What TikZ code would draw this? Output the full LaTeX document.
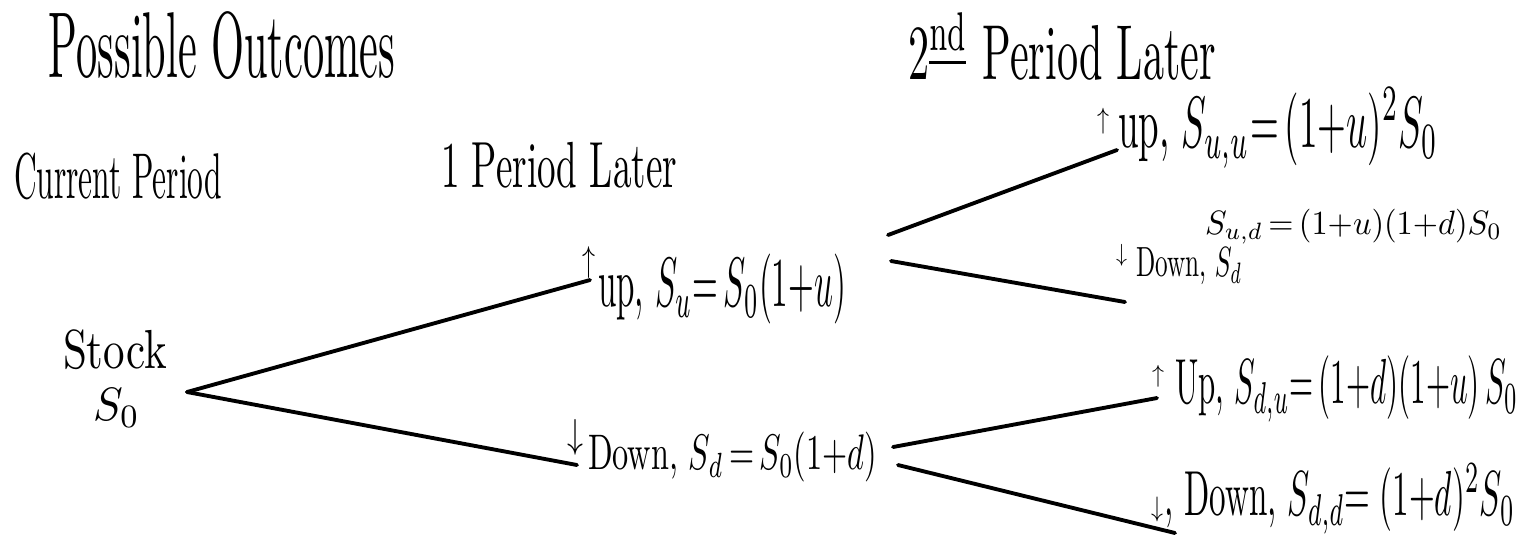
\documentclass[tikz,border=0pt]{standalone}
\usepackage{graphicx}
\newdimen\pxu \pxu=0.1mm
% fit a text into a box of w x h pixels (total height)
\newcommand{\handtext}[3]{\resizebox*{#1\pxu}{#2\pxu}{#3}}
\begin{document}
\begin{tikzpicture}[x=0.1mm,y=-0.1mm,
  lbl/.style={inner sep=0pt, outer sep=0pt, anchor=north west},
  branch/.style={line width=1.1pt, line cap=round}]
\useasboundingbox (0,0) rectangle (1529,541);

% headings
\node[lbl] (title) at (49,12) {\handtext{346}{68}{Possible Outcomes}};
\node[lbl] (per2) at (908,13) {\handtext{308}{67}{2\textsuperscript{\underline{nd}} Period Later}};
\node[lbl] (cur) at (14,153) {\handtext{208}{47}{Current Period}};
\node[lbl] (per1) at (441,142) {\handtext{236}{46}{1 Period Later}};

% root
\node[lbl] (stock) at (63,330) {\handtext{104}{40}{Stock}};
\node[lbl] (s0) at (93,388) {\handtext{47}{39}{$S_0$}};

% first period
\node[lbl] (up1a) at (582,246) {\handtext{13}{32}{$\uparrow$}};
\node[lbl] (up1) at (598,254) {\handtext{248}{70}{up, $S_u{=}\,S_0(1{+}u)$}};
\node[lbl] (dn1a) at (567,419) {\handtext{16}{36}{$\downarrow$}};
\node[lbl] (dn1) at (588,432) {\handtext{289}{50}{Down, $S_d\,{=}\,S_0(1{+}d)$}};

% second period
\node[lbl] (uua) at (1097,108) {\handtext{12}{26}{$\uparrow$}};
\node[lbl] (uu) at (1118,88) {\handtext{320}{80}{up, $S_{u,u}{=}\,(1{+}u)^2 S_0$}};
\node[lbl] (udv) at (1205,209) {\handtext{297}{35}{$S_{u,d}\,{=}\,(1{+}u)(1{+}d)S_0$}};
\node[lbl] (uda) at (1116,244) {\handtext{11}{22}{$\downarrow$}};
\node[lbl] (ud) at (1136,248) {\handtext{106}{37}{Down, $S_d$}};
\node[lbl] (dua) at (1152,365) {\handtext{12}{22}{$\uparrow$}};
\node[lbl] (du) at (1175,356) {\handtext{343}{66}{Up, $S_{d,u}{=}\,(1{+}d)(1{+}u)\,S_0$}};
\node[lbl] (dda) at (1151,497) {\handtext{12}{25}{$\downarrow$}};
\node[lbl] (dd) at (1164,464) {\handtext{351}{70}{, Down, $S_{d,d}{=}\;(1{+}d)^2 S_0$}};

% tree vertices
\coordinate (r) at (187,392);
\coordinate (u) at (590,280);
\coordinate (d) at (577,465);
\coordinate (u1) at (888,235);
\coordinate (u2) at (891,261);
\coordinate (d1) at (893,447);
\coordinate (d2) at (898,465);
\coordinate (uuend) at (1117,150);
\coordinate (udend) at (1125,302);
\coordinate (duend) at (1157,398);
\coordinate (ddend) at (1175,533);

\draw[branch] (r) -- (u);
\draw[branch] (r) -- (d);
\draw[branch] (u1) -- (uuend);
\draw[branch] (u2) -- (udend);
\draw[branch] (d1) -- (duend);
\draw[branch] (d2) -- (ddend);
\end{tikzpicture}
\end{document}
